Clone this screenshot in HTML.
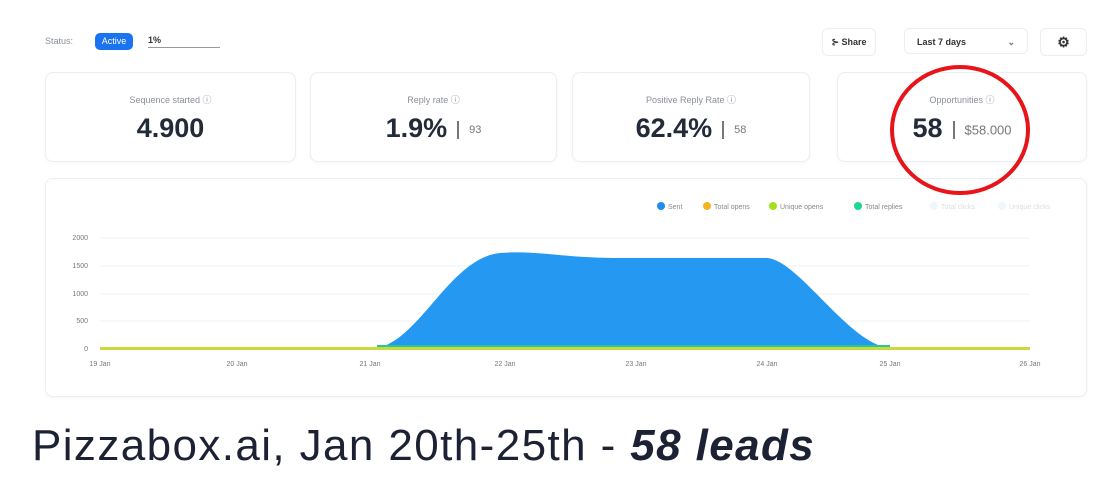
<!DOCTYPE html>
<html><head><meta charset="utf-8"><style>
body{margin:0;width:1112px;height:494px;background:#fff;font-family:"Liberation Sans",sans-serif;position:relative;overflow:hidden}
.a{position:absolute}
.card{position:absolute;border:1px solid #eceef2;border-radius:8px;background:#fff;box-shadow:0 1px 3px rgba(0,0,0,0.04)}
.lbl{position:absolute;left:0;right:0;text-align:center;top:20px;font-size:9px;color:#8a8f99}
.val{position:absolute;left:0;right:0;text-align:center;top:40px;font-size:27px;font-weight:bold;color:#232a38;white-space:nowrap}
.val small{font-size:11px;font-weight:normal;color:#777;vertical-align:middle}
.val .sep{display:inline-block;width:2px;height:18px;background:#777;margin:0 10px;vertical-align:middle}
.btn{position:absolute;border:1px solid #eceef2;border-radius:6px;font-size:9px;font-weight:bold;color:#333;line-height:26px;text-align:center}
</style></head><body>
<div class="a" style="left:45px;top:36px;font-size:9px;color:#8a8f99">Status:</div>
<div class="a" style="left:95px;top:33px;width:38px;height:17px;border-radius:5px;background:#1a73f0;color:#fff;font-size:9px;line-height:17px;text-align:center">Active</div>
<div class="a" style="left:148px;top:35px;font-size:9px;font-weight:bold;color:#333">1%</div>
<div class="a" style="left:148px;top:47px;width:72px;height:1px;background:#999"></div>
<div class="btn" style="left:822px;top:28px;width:52px;height:26px">⊱ Share</div>
<div class="btn" style="left:904px;top:28px;width:124px;height:26px;text-align:left;padding-left:12px;box-sizing:border-box">Last 7 days<span style="position:absolute;right:12px;color:#777">⌄</span></div>
<div class="btn" style="left:1040px;top:28px;width:45px;height:26px;font-size:14px">⚙</div>

<div class="card" style="left:45px;top:72px;width:249px;height:88px"><div class="lbl">Sequence started ⓘ</div><div class="val">4.900</div></div>
<div class="card" style="left:310px;top:72px;width:245px;height:88px"><div class="lbl">Reply rate ⓘ</div><div class="val">1.9%<span class="sep"></span><small>93</small></div></div>
<div class="card" style="left:572px;top:72px;width:236px;height:88px"><div class="lbl">Positive Reply Rate ⓘ</div><div class="val">62.4%<span class="sep"></span><small>58</small></div></div>
<div class="card" style="left:837px;top:72px;width:248px;height:88px"><div class="lbl">Opportunities ⓘ</div><div class="val">58<span class="sep"></span><small style="font-size:13px">$58.000</small></div></div>

<div class="card" style="left:45px;top:178px;width:1040px;height:217px"></div>
<svg class="a" style="left:0;top:0" width="1112" height="494">
<g font-size="7" fill="#888" font-family="Liberation Sans">
<circle cx="661" cy="206" r="4" fill="#1e8cf0"/><text x="668" y="209">Sent</text>
<circle cx="707" cy="206" r="4" fill="#f5b321"/><text x="714" y="209">Total opens</text>
<circle cx="773" cy="206" r="4" fill="#a5e01c"/><text x="780" y="209">Unique opens</text>
<circle cx="858" cy="206" r="4" fill="#1ed68e"/><text x="865" y="209">Total replies</text>
<circle cx="934" cy="206" r="4" fill="#eef8fb"/><text x="941" y="209" fill="#ddd">Total clicks</text>
<circle cx="1002" cy="206" r="4" fill="#eef8fb"/><text x="1009" y="209" fill="#ddd">Unique clicks</text>
</g>
<g stroke="#f0f1f3" stroke-width="1">
<line x1="100" x2="1030" y1="238" y2="238"/><line x1="100" x2="1030" y1="266" y2="266"/><line x1="100" x2="1030" y1="294" y2="294"/><line x1="100" x2="1030" y1="321" y2="321"/>
</g>
<g font-size="7" fill="#777" text-anchor="end"><text x="88" y="240">2000</text><text x="88" y="268">1500</text><text x="88" y="296">1000</text><text x="88" y="323">500</text><text x="88" y="351">0</text></g>
<path d="M377 348 C420 340,450 258,500 253 C540 250,560 258,620 258 L768 258 C800 262,850 345,890 348 Z" fill="#2599f2"/>
<line x1="377" x2="890" y1="346" y2="346" stroke="#22c9a0" stroke-width="2"/>
<line x1="100" x2="1030" y1="348.5" y2="348.5" stroke="#cfd83a" stroke-width="3"/>
<g font-size="7" fill="#777" text-anchor="middle"><text x="100" y="366">19 Jan</text><text x="237" y="366">20 Jan</text><text x="370" y="366">21 Jan</text><text x="505" y="366">22 Jan</text><text x="636" y="366">23 Jan</text><text x="767" y="366">24 Jan</text><text x="890" y="366">25 Jan</text><text x="1030" y="366">26 Jan</text></g>
<ellipse cx="960" cy="130" rx="68" ry="63" fill="none" stroke="#e8141a" stroke-width="4"/>
</svg>
<div class="a" style="left:32px;top:421px;font-size:44px;letter-spacing:1.4px;color:#1c2233;white-space:nowrap">Pizzabox.ai, Jan 20th-25th - <b><i>58 leads</i></b></div>
</body></html>
